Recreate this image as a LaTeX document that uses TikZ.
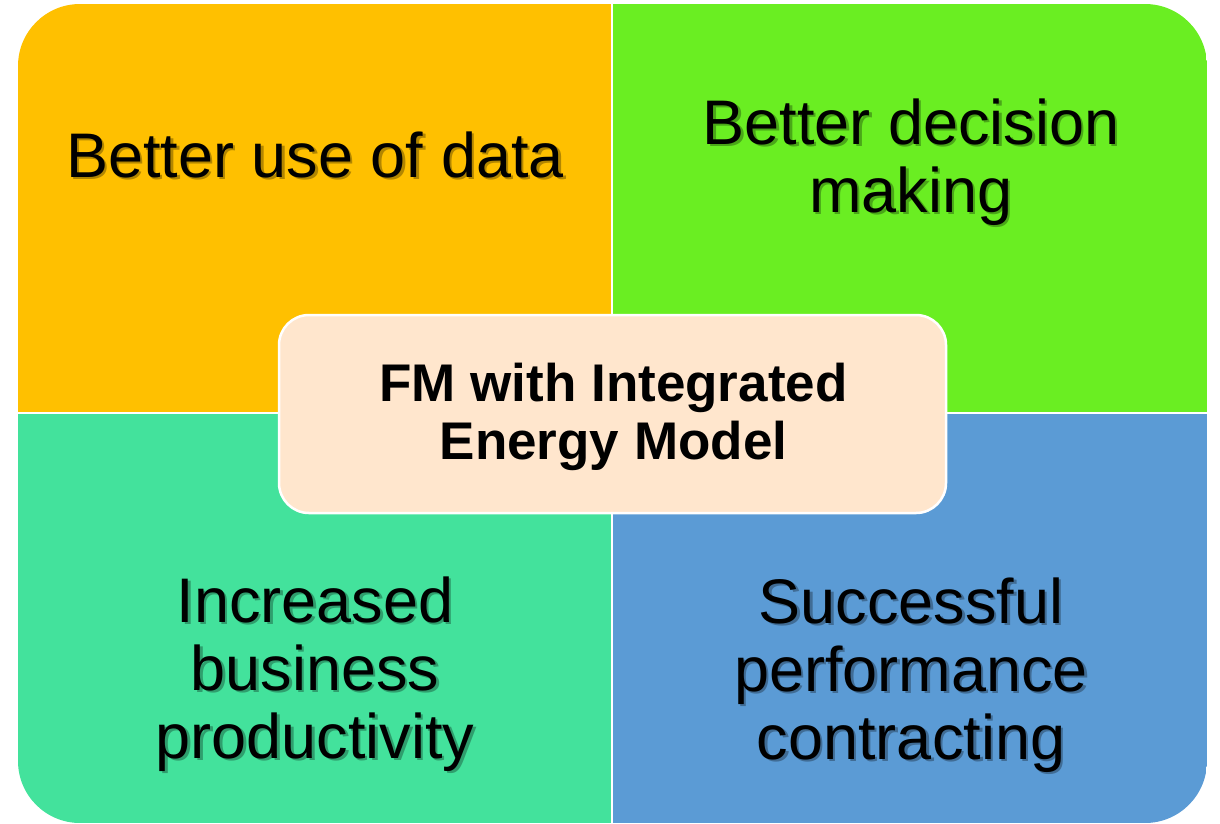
\documentclass[tikz,border=0pt]{standalone}
\usepackage{fontspec}
\setmainfont{Liberation Sans}
\usetikzlibrary{calc}
\definecolor{qTL}{HTML}{FFC000}
\definecolor{qTR}{HTML}{6AEE22}
\definecolor{qBL}{HTML}{43E29C}
\definecolor{qBR}{HTML}{5B9BD5}
\definecolor{core}{HTML}{FFE6CD}
\tikzset{
  quadtext/.style={align=center,text=black,font=\fontsize{63}{68}\selectfont,inner sep=0pt},
  corebox/.style={draw=white,line width=2.5pt,fill=core,rounded corners=30pt,
    minimum width=667pt,minimum height=198pt,inner sep=0pt},
  coretext/.style={align=center,font=\fontsize{53}{58}\selectfont\bfseries,inner sep=0pt},
}
% one line of text with a soft drop shadow behind it
\newcommand{\shl}[2]{\leavevmode\rlap{\kern2.5pt\raisebox{-2.5pt}{\textcolor{#1}{#2}}}#2}
\begin{document}
\begin{tikzpicture}[x=1pt,y=-1pt]
\useasboundingbox (0,0) rectangle (1220,823);
\begin{scope}
  \clip[rounded corners=62pt] (18,4) rectangle (1207,823);
  \fill[qTL] (18,4) rectangle (612,413);
  \fill[qTR] (612,4) rectangle (1207,413);
  \fill[qBL] (18,413) rectangle (612,823);
  \fill[qBR] (612,413) rectangle (1207,823);
  \draw[white,line width=2.5pt] (612,4) -- (612,823);
  \draw[white,line width=2.5pt] (18,413) -- (1207,413);
\end{scope}
\node[quadtext] (tl) at (315,156) {\shl{qTL!70!black}{Better use of data}};
\node[quadtext] (tr) at (911,163) {\shl{qTR!70!black}{Better decision}\\\shl{qTR!70!black}{making}};
\node[quadtext] (bl) at (315,675) {\shl{qBL!70!black}{Increased}\\\shl{qBL!70!black}{business}\\\shl{qBL!70!black}{productivity}};
\node[quadtext] (br) at (911,676) {\shl{qBR!70!black}{Successful}\\\shl{qBR!70!black}{performance}\\\shl{qBR!70!black}{contracting}};
\node[corebox] (core) at (612.5,414) {};
\node[coretext] (coretext) at (613.5,417) {FM with Integrated\\Energy Model};
\end{tikzpicture}
\end{document}
